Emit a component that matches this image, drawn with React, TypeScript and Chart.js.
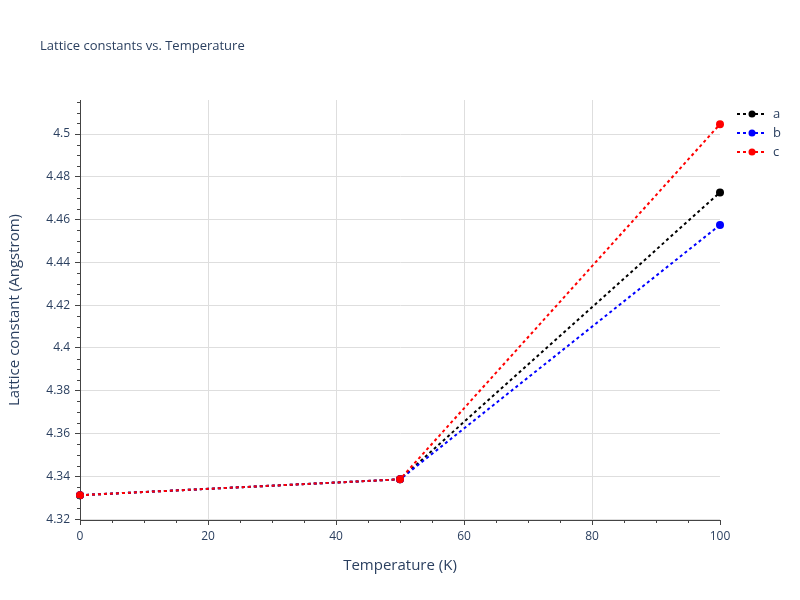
import React, { useEffect, useRef } from "react";
import { Chart, registerables } from "chart.js";

Chart.register(...registerables);

const temperatures = [0, 50, 100];
const seriesA = [4.3312, 4.3386, 4.4727];
const seriesB = [4.3312, 4.3386, 4.4575];
const seriesC = [4.3312, 4.3386, 4.5046];
const seriesNames = ["a", "b", "c"];
const seriesColors = ["#000000", "#0000ff", "#ff0000"];
const yMajorTicks = [4.32, 4.34, 4.36, 4.38, 4.4, 4.42, 4.44, 4.46, 4.48, 4.5];
const xMajorTicks = [0, 20, 40, 60, 80, 100];

const FONT = '"Open Sans", verdana, arial, sans-serif';
const TEXT = "#2a3f5f";
const GRID = "#dedede";

export default function App() {
  const ref = useRef<HTMLCanvasElement | null>(null);

  useEffect(() => {
    document.body.style.margin = "0";
    const canvas = ref.current;
    if (!canvas) return;

    const series = [seriesA, seriesB, seriesC];

    const extras = {
      id: "extras",
      afterDraw(chart: any) {
        const ctx = chart.ctx;
        const xs = chart.scales.x;
        const ys = chart.scales.y;
        const area = chart.chartArea;
        ctx.save();
        // minor ticks
        ctx.strokeStyle = "#444";
        ctx.lineWidth = 1;
        for (let v = 0; v <= 100; v += 5) {
          if (v % 20 === 0) continue;
          const px = Math.round(xs.getPixelForValue(v)) + 0.5;
          ctx.beginPath();
          ctx.moveTo(px, area.bottom);
          ctx.lineTo(px, area.bottom + 3);
          ctx.stroke();
        }
        for (let i = 0; i * 0.005 + 4.32 <= ys.max + 1e-9; i++) {
          if (i % 4 === 0) continue;
          const v = 4.32 + i * 0.005;
          const py = Math.round(ys.getPixelForValue(v)) + 0.5;
          ctx.beginPath();
          ctx.moveTo(area.left - 3, py);
          ctx.lineTo(area.left, py);
          ctx.stroke();
        }
        // title
        ctx.fillStyle = TEXT;
        ctx.font = `13px ${FONT}`;
        ctx.textAlign = "left";
        ctx.textBaseline = "middle";
        ctx.fillText("Lattice constants vs. Temperature", 40, 46);
        // legend
        const lx = 737;
        chart.data.datasets.forEach((ds: any, i: number) => {
          const y = 114 + i * 19;
          ctx.strokeStyle = ds.borderColor;
          ctx.lineWidth = 2;
          ctx.setLineDash([3, 3]);
          ctx.beginPath();
          ctx.moveTo(lx, y);
          ctx.lineTo(lx + 30, y);
          ctx.stroke();
          ctx.setLineDash([]);
          ctx.fillStyle = ds.backgroundColor;
          ctx.beginPath();
          ctx.arc(lx + 15, y, 3.5, 0, Math.PI * 2);
          ctx.fill();
          ctx.fillStyle = TEXT;
          ctx.font = `13px ${FONT}`;
          ctx.textAlign = "left";
          ctx.textBaseline = "middle";
          ctx.fillText(ds.label, lx + 36, y);
        });
        ctx.restore();
      },
    };

    const chart = new Chart(canvas, {
      type: "line",
      data: {
        datasets: series.map((s, i) => ({
          label: seriesNames[i],
          data: temperatures.map((t, j) => ({ x: t, y: s[j] })),
          borderColor: seriesColors[i],
          backgroundColor: seriesColors[i],
          borderWidth: 2,
          borderDash: [3, 3],
          pointRadius: 4,
          pointBorderWidth: 0,
          pointBackgroundColor: seriesColors[i],
          tension: 0,
          fill: false,
          clip: false as any,
          order: series.length - 1 - i,
        })),
      },
      options: {
        responsive: false,
        animation: false,
        events: [],
        layout: { padding: { left: 0, right: 80, top: 100, bottom: 25 } },
        plugins: {
          legend: { display: false },
          title: { display: false },
          tooltip: { enabled: false },
        },
        scales: {
          x: {
            type: "linear",
            min: 0,
            max: 100,
            afterBuildTicks: (scale: any) => {
              scale.ticks = xMajorTicks.map((v) => ({ value: v }));
            },
            afterFit: (scale: any) => {
              scale.height = 55;
            },
            ticks: {
              color: TEXT,
              font: { family: FONT, size: 12 },
              padding: 4,
              maxRotation: 0,
              callback: (v: any) => String(v),
            },
            grid: {
              color: (c: any) =>
                c.tick && (c.tick.value === 0 || c.tick.value === 100) ? "rgba(0,0,0,0)" : GRID,
              lineWidth: 1,
              drawTicks: true,
              tickLength: 5,
              tickColor: "#444",
            },
            border: { display: true, color: "#444", width: 1 },
            title: {
              display: true,
              text: "Temperature (K)",
              color: TEXT,
              font: { family: FONT, size: 15 },
              padding: { top: 0, bottom: 0 },
            },
          },
          y: {
            type: "linear",
            min: 4.3196,
            max: 4.5159,
            afterBuildTicks: (scale: any) => {
              scale.ticks = yMajorTicks.map((v) => ({ value: v }));
            },
            afterFit: (scale: any) => {
              scale.width = 80;
            },
            ticks: {
              color: TEXT,
              font: { family: FONT, size: 12 },
              padding: 5,
              callback: (v: any) => String(Number(Number(v).toFixed(2))),
            },
            grid: {
              color: GRID,
              lineWidth: 1,
              drawTicks: true,
              tickLength: 5,
              tickColor: "#444",
            },
            border: { display: true, color: "#444", width: 1 },
            title: {
              display: true,
              text: "Lattice constant (Angstrom)",
              color: TEXT,
              font: { family: FONT, size: 15 },
              padding: { top: 6, bottom: 0 },
            },
          },
        },
      },
      plugins: [extras],
    });

    return () => chart.destroy();
  }, []);

  return (
    <div style={{ width: 800, height: 600, background: "#fff" }}>
      <canvas ref={ref} width={800} height={600} style={{ display: "block" }} />
    </div>
  );
}
